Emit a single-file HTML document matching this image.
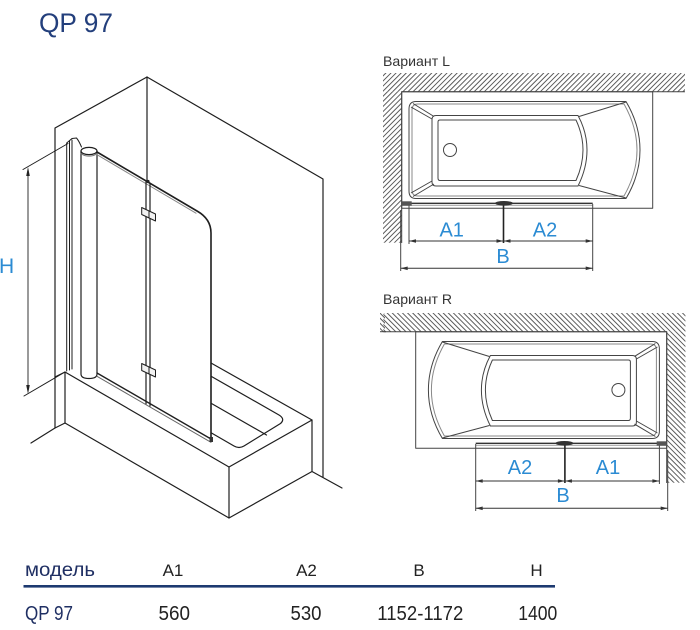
<!DOCTYPE html>
<html><head><meta charset="utf-8">
<style>html,body{margin:0;padding:0;background:#fff}svg{display:block}</style>
</head>
<body>
<svg width="700" height="630" viewBox="0 0 700 630" xmlns="http://www.w3.org/2000/svg" font-family="'Liberation Sans', 'DejaVu Sans', sans-serif">
<defs>
<pattern id="h" width="3.6" height="3.6" patternUnits="userSpaceOnUse" patternTransform="rotate(45)">
<line x1="0.5" y1="0" x2="0.5" y2="3.6" stroke="#4a4a4a" stroke-width="0.9"/>
</pattern>
<pattern id="h2" width="3.6" height="3.6" patternUnits="userSpaceOnUse" patternTransform="rotate(-45)">
<line x1="0.5" y1="0" x2="0.5" y2="3.6" stroke="#4a4a4a" stroke-width="0.9"/>
</pattern>
</defs>
<rect width="700" height="630" fill="#fff"/>

<!-- Title -->
<text x="39" y="32" font-size="27" fill="#233f7c" textLength="74" lengthAdjust="spacingAndGlyphs">QP 97</text>

<!-- ============ Left isometric drawing ============ -->
<g stroke="#1e1e1e" stroke-width="1.2" fill="none" stroke-linecap="round" stroke-linejoin="round">
  <!-- walls -->
  <path d="M147,77 L55,128 V428 L31,443"/>
  <path d="M147,77 L323,179 V477"/>
  <path d="M147,77 V182"/>
  <path d="M312,471.5 L342,488"/>
  <!-- tub -->
  <path d="M55,377 L65,372 L229,467 L312,420 V471.5 L229,518 L65,423 L55,428"/>
  <path d="M65,372 V423 M229,467 V518"/>
  <path d="M211,363 L312,420"/>
  <path d="M211.5,376.5 L279,415 Q285.5,419 280.5,423.5 L244,446 Q239,449 234,446 L211.5,433"/>
  <path d="M211.5,403.5 L266.5,435"/>
  <!-- wall profile -->
  <path d="M66.7,143 V371 M69.5,141 V370 M72,140 V369" stroke-width="1"/>
  <path d="M66.7,143 L72,138.5 L76.5,138 Q79,141 81.5,147" stroke-width="1"/>
  <!-- column -->
  <path d="M81,151 V374 Q81,378.5 89,378.5 Q97,378.5 97,374 V151"/>
  <ellipse cx="89" cy="151" rx="8" ry="3.6"/>
  <path d="M81,153.8 Q89,158.5 97,153.8" stroke="#777" stroke-width="1"/>
  <!-- glass -->
  <path d="M97,152 L197,211 C205,215.5 211,222 211,233 V440" stroke-width="1.6"/>
  <path d="M97,154.7 L196,213.2" stroke="#888" stroke-width="1"/>
  <path d="M146,182 V404 M150,183 V406"/>
  <path d="M97,373 L211,439" stroke-width="1.4"/>
  <path d="M97,376.3 L211,442.3" stroke="#666" stroke-width="1"/>
  <!-- hinges -->
  <polygon points="141.7,207.5 155.5,214 155.5,221 141.7,214.5" fill="#f2f2f2" stroke-width="1"/>
  <line x1="149" y1="211" x2="149" y2="218" stroke-width="1"/>
  <polygon points="141.7,363.5 155.5,370 155.5,377 141.7,370.5" fill="#f2f2f2" stroke-width="1"/>
  <line x1="149" y1="367" x2="149" y2="374" stroke-width="1"/>
  <!-- H dimension -->
  <path d="M28,172 V389" stroke-width="0.9"/>
  <path d="M23,169.5 L68,143.5" stroke-width="1"/>
  <path d="M24,396 L65,372" stroke-width="1"/>
</g>
<circle cx="148" cy="181.5" r="1.6" fill="#222"/>
<rect x="209.5" y="437" width="3.5" height="5" fill="#333"/>
<polygon points="28,167 26.2,176 29.8,176" fill="#222"/>
<polygon points="28,394 26.2,385 29.8,385" fill="#222"/>
<text x="-1" y="273" font-size="21" fill="#2b8bd3">H</text>

<!-- ============ Plan view L ============ -->
<g>
  <rect x="383" y="73" width="302" height="18.7" fill="url(#h)"/>
  <rect x="383" y="91.7" width="18.7" height="151" fill="url(#h)"/>
  <g stroke="#444" stroke-width="1" fill="none" stroke-linejoin="round">
    <path d="M685,91.7 H401.7 V243"/>
    <rect x="401.7" y="91.7" width="251" height="116.6"/>
    <path d="M416,101.5 H626 Q640,125 640,150 Q640,175 626,198.5 H416 Q409,198.5 409,191 V109 Q409,101.5 416,101.5 Z"/>
    <path d="M418,104 H624 Q637,127 637,150 Q637,173 624,196 H418 Q412,196 412,190 V110 Q412,104 418,104 Z" stroke="#888"/>
    <path d="M436,115.5 H578 Q587,132 587,150 Q587,168 578,186 H436 Q432,186 432,182 V119.5 Q432,115.5 436,115.5 Z"/>
    <path d="M440,120 H576 Q583,135 583,150 Q583,165 576,180.5 H440 Q438,180.5 438,178 V122 Q438,120 440,120 Z"/>
    <path d="M413,103.5 L434,116.5 M411,107 L432,119"/>
    <path d="M413,196.5 L434,184 M411,193 L432,181"/>
    <path d="M626,102 L579,116.5"/>
    <path d="M626,198 L579,185.5"/>
    <circle cx="450" cy="150" r="6.5"/>
    <path d="M401.7,203.3 H592.7" stroke="#333" stroke-width="1.3"/>
    <path d="M411,205.2 H592.7" stroke="#999"/>
    <path d="M409,205 V244 M592.7,204 V271 M400.7,210 V271"/>
    <path d="M503.5,203 V243" stroke="#222" stroke-width="1.6"/>
    <path d="M409,241 H592.7 M400.7,268.3 H592.7" stroke="#333"/>
  </g>
  <rect x="401.7" y="201.3" width="10" height="4.5" fill="#555"/>
  <ellipse cx="504" cy="203.3" rx="9" ry="2.3" fill="#333"/>
  <g fill="#333">
    <polygon points="409,241 416,239.2 416,242.8"/>
    <polygon points="503.5,241 496.5,239.2 496.5,242.8"/>
    <polygon points="503.5,241 510.5,239.2 510.5,242.8"/>
    <polygon points="592.7,241 585.7,239.2 585.7,242.8"/>
    <polygon points="400.7,268.3 407.7,266.5 407.7,270.1"/>
    <polygon points="592.7,268.3 585.7,266.5 585.7,270.1"/>
  </g>
</g>

<!-- ============ Plan view R (mirrored) ============ -->
<rect x="380" y="313" width="5" height="18.7" fill="url(#h2)"/>
<line x1="380" y1="331.7" x2="386" y2="331.7" stroke="#444"/>
<g transform="translate(1068.4,240) scale(-1,1)">
  <rect x="383" y="73" width="302" height="18.7" fill="url(#h)"/>
  <rect x="383" y="91.7" width="18.7" height="151" fill="url(#h)"/>
  <g stroke="#444" stroke-width="1" fill="none" stroke-linejoin="round">
    <path d="M685,91.7 H401.7 V243"/>
    <rect x="401.7" y="91.7" width="251" height="116.6"/>
    <path d="M416,101.5 H626 Q640,125 640,150 Q640,175 626,198.5 H416 Q409,198.5 409,191 V109 Q409,101.5 416,101.5 Z"/>
    <path d="M418,104 H624 Q637,127 637,150 Q637,173 624,196 H418 Q412,196 412,190 V110 Q412,104 418,104 Z" stroke="#888"/>
    <path d="M436,115.5 H578 Q587,132 587,150 Q587,168 578,186 H436 Q432,186 432,182 V119.5 Q432,115.5 436,115.5 Z"/>
    <path d="M440,120 H576 Q583,135 583,150 Q583,165 576,180.5 H440 Q438,180.5 438,178 V122 Q438,120 440,120 Z"/>
    <path d="M413,103.5 L434,116.5 M411,107 L432,119"/>
    <path d="M413,196.5 L434,184 M411,193 L432,181"/>
    <path d="M626,102 L579,116.5"/>
    <path d="M626,198 L579,185.5"/>
    <circle cx="450" cy="150" r="6.5"/>
    <path d="M401.7,203.3 H592.7" stroke="#333" stroke-width="1.3"/>
    <path d="M411,205.2 H592.7" stroke="#999"/>
    <path d="M409,205 V244 M592.7,204 V271 M400.7,210 V271"/>
    <path d="M503.5,203 V243" stroke="#222" stroke-width="1.6"/>
    <path d="M409,241 H592.7 M400.7,268.3 H592.7" stroke="#333"/>
  </g>
  <rect x="401.7" y="201.3" width="10" height="4.5" fill="#555"/>
  <ellipse cx="504" cy="203.3" rx="9" ry="2.3" fill="#333"/>
  <g fill="#333">
    <polygon points="409,241 416,239.2 416,242.8"/>
    <polygon points="503.5,241 496.5,239.2 496.5,242.8"/>
    <polygon points="503.5,241 510.5,239.2 510.5,242.8"/>
    <polygon points="592.7,241 585.7,239.2 585.7,242.8"/>
    <polygon points="400.7,268.3 407.7,266.5 407.7,270.1"/>
    <polygon points="592.7,268.3 585.7,266.5 585.7,270.1"/>
  </g>
</g>

<!-- Plan labels -->
<text x="383" y="66" font-size="14" fill="#333" textLength="67" lengthAdjust="spacingAndGlyphs">Вариант L</text>
<text x="383" y="304" font-size="14" fill="#333" textLength="69" lengthAdjust="spacingAndGlyphs">Вариант R</text>
<g font-size="20" fill="#2b8bd3" text-anchor="middle">
  <text x="451.7" y="236.5">A1</text>
  <text x="545" y="236.5">A2</text>
  <text x="503" y="263">B</text>
  <text x="520" y="474">A2</text>
  <text x="608" y="474">A1</text>
  <text x="563" y="502">B</text>
</g>

<!-- ============ Table ============ -->
<text x="25" y="576" font-size="19" fill="#1f2f63" textLength="70" lengthAdjust="spacingAndGlyphs">модель</text>
<g font-size="17" fill="#222" text-anchor="middle">
  <text x="173" y="576">A1</text>
  <text x="306.5" y="576">A2</text>
  <text x="419" y="576">B</text>
  <text x="536.5" y="576">H</text>
</g>
<rect x="23.5" y="585" width="531.5" height="2.6" fill="#1d3a70"/>
<text x="25" y="620" font-size="20" fill="#1f2f63" textLength="48" lengthAdjust="spacingAndGlyphs">QP 97</text>
<g font-size="20" fill="#222">
  <text x="158.5" y="620" textLength="31.5" lengthAdjust="spacingAndGlyphs">560</text>
  <text x="290.5" y="620" textLength="31" lengthAdjust="spacingAndGlyphs">530</text>
  <text x="377.3" y="620" textLength="86" lengthAdjust="spacingAndGlyphs">1152-1172</text>
  <text x="518.3" y="620" textLength="39" lengthAdjust="spacingAndGlyphs">1400</text>
</g>
</svg>
</body>
</html>
